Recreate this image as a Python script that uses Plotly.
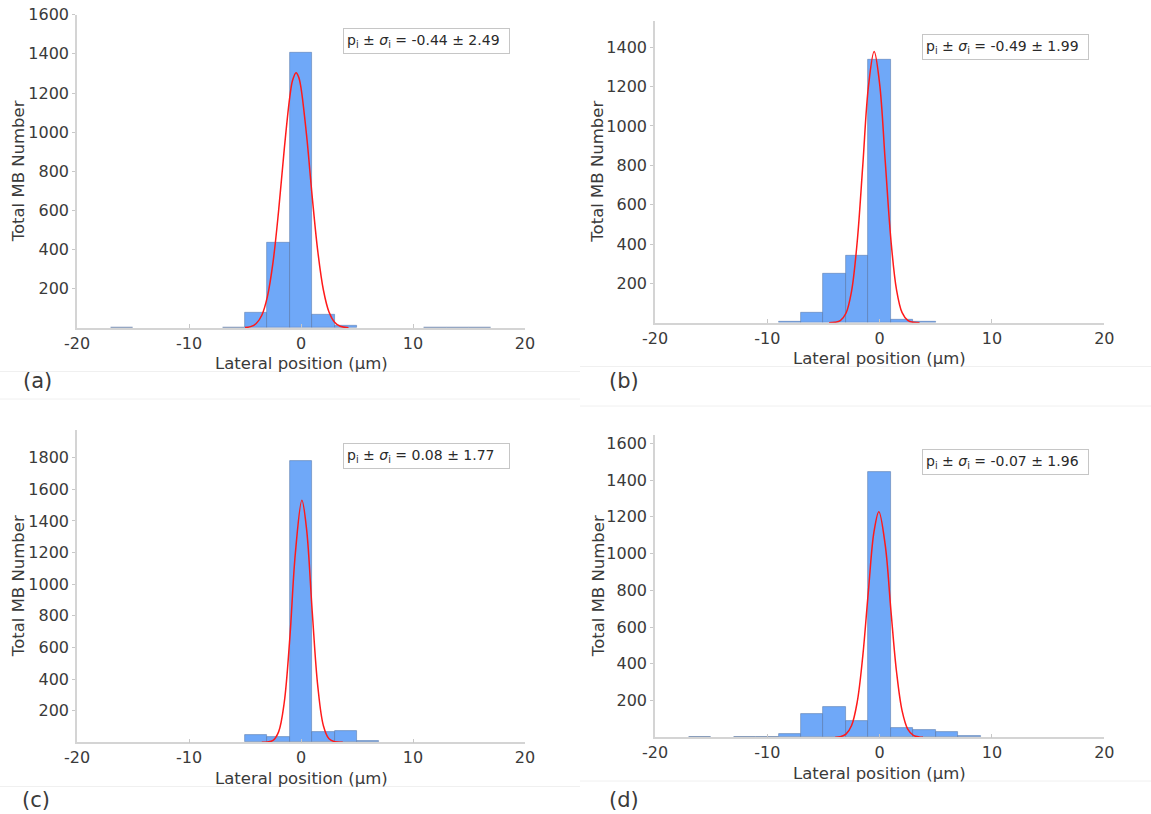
import plotly.graph_objects as go

W, H = 1151, 814

# ---------------- data ----------------
bin_width = 2.0

centers_a = [-16, -6, -4, -2, 0, 2, 4, 12, 14, 16]
counts_a = [3, 3, 80, 436, 1405, 68, 12, 3, 3, 3]
fit_x_a = [-5.0, -4.5, -4.0, -3.5, -3.0, -2.5, -2.0, -1.5, -1.0, -0.75, -0.44, -0.2, 0.0, 0.5, 1.0, 1.5, 2.0, 2.5, 3.0, 3.5, 4.24]
fit_y_a = [2, 7, 23, 65, 160, 335, 598, 910, 1180, 1265, 1304, 1280, 1226, 983, 671, 391, 194, 82, 30, 9, 1]
label_a = "p<sub>i</sub> ± <i>σ</i><sub>i</sub> = -0.44 ± 2.49"

centers_b = [-8, -6, -4, -2, 0, 2, 4]
counts_b = [5, 53, 251, 342, 1339, 17, 5]
fit_x_b = [-4.5, -4.0, -3.5, -3.0, -2.5, -2.0, -1.5, -1.0, -0.49, 0.0, 0.5, 1.0, 1.5, 2.0, 2.5, 3.0, 3.55]
fit_y_b = [0, 2, 11, 48, 161, 410, 801, 1200, 1378, 1213, 818, 423, 168, 51, 12, 2, 0]
label_b = "p<sub>i</sub> ± <i>σ</i><sub>i</sub> = -0.49 ± 1.99"

centers_c = [-4, -2, 0, 2, 4, 6]
counts_c = [46, 36, 1779, 67, 72, 10]
fit_x_c = [-3.5, -3.0, -2.5, -2.0, -1.5, -1.0, -0.5, 0.08, 0.5, 1.0, 1.5, 2.0, 2.5, 3.0, 3.73]
fit_y_c = [0, 2, 12, 66, 250, 657, 1199, 1531, 1347, 829, 354, 105, 22, 3, 0]
label_c = "p<sub>i</sub> ± <i>σ</i><sub>i</sub> = 0.08 ± 1.77"

centers_d = [-16, -12, -10, -8, -6, -4, -2, 0, 2, 4, 6, 8]
counts_d = [2, 2, 4, 20, 127, 167, 89, 1446, 53, 40, 31, 5]
fit_x_d = [-3.94, -3.5, -3.0, -2.5, -2.0, -1.5, -1.0, -0.5, -0.07, 0.5, 1.0, 1.5, 2.0, 2.5, 3.0, 3.5, 3.85]
fit_y_d = [1, 3, 17, 64, 191, 443, 797, 1120, 1228, 1044, 693, 358, 144, 45, 11, 2, 1]
label_d = "p<sub>i</sub> ± <i>σ</i><sub>i</sub> = -0.07 ± 1.96"

panel_letters = ["(a)", "(b)", "(c)", "(d)"]
x_ticks = [-20, -10, 0, 10, 20]
y_ticks_a = [200, 400, 600, 800, 1000, 1200, 1400, 1600]
y_ticks_b = [200, 400, 600, 800, 1000, 1200, 1400]
y_ticks_c = [200, 400, 600, 800, 1000, 1200, 1400, 1600, 1800]
y_ticks_d = [200, 400, 600, 800, 1000, 1200, 1400, 1600]
y_max = [1600, 1535, 1975, 1645]

x_title = "Lateral position (µm)"
y_title = "Total MB Number"

# ---------------- layout (pixel boxes) ----------------
boxes = [(77, 14.7, 525, 328), (655, 20.7, 1104.3, 322.7),
         (77, 430, 525, 742.3), (655, 435, 1104.3, 737.3)]
ann_pos = [(342.7, 28.3), (921.8, 34.3), (342.7, 443.3), (921.8, 449.3)]
letter_pos = [(37, 381), (624, 381), (36, 800), (624, 800)]
ytitle_x = [18, 598, 18, 598]
xtitle_y = [363, 358, 778, 773]

FONT = "DejaVu Sans"
TXT = "#3a3a3a"
BAR = "#6fa8f8"
BAR_EDGE = "rgba(70,100,150,0.55)"
AXIS = "#d4d4d4"

panels = [
    (centers_a, counts_a, fit_x_a, fit_y_a, label_a, y_ticks_a),
    (centers_b, counts_b, fit_x_b, fit_y_b, label_b, y_ticks_b),
    (centers_c, counts_c, fit_x_c, fit_y_c, label_c, y_ticks_c),
    (centers_d, counts_d, fit_x_d, fit_y_d, label_d, y_ticks_d),
]

fig = go.Figure()
annotations = []
shapes = []
layout_axes = {}

for i, (cx, cy, fx, fy, lab, yt) in enumerate(panels):
    n = i + 1
    xa = "x" if n == 1 else f"x{n}"
    ya = "y" if n == 1 else f"y{n}"
    l, t, r, b = boxes[i]
    fig.add_trace(go.Bar(x=cx, y=cy, width=bin_width, xaxis=xa, yaxis=ya,
                         marker=dict(color=BAR, line=dict(color=BAR_EDGE, width=0.8)),
                         showlegend=False))
    fig.add_trace(go.Scatter(x=fx, y=fy, mode="lines", xaxis=xa, yaxis=ya,
                             line=dict(color="#ff1a1a", width=1.5, shape="spline", smoothing=1.0),
                             showlegend=False))
    xkey = "xaxis" if n == 1 else f"xaxis{n}"
    ykey = "yaxis" if n == 1 else f"yaxis{n}"
    layout_axes[xkey] = dict(
        domain=[l / W, r / W], anchor=ya, range=[-20, 20], automargin=False,
        tickvals=x_ticks, ticktext=[str(v) for v in x_ticks],
        showgrid=False, zeroline=False, showline=True, linecolor=AXIS, linewidth=1.5,
        ticks="inside", ticklen=4, tickcolor="#c8c8c8",
        tickfont=dict(family=FONT, size=16, color=TXT), fixedrange=True)
    layout_axes[ykey] = dict(
        domain=[1 - b / H, 1 - t / H], anchor=xa, range=[0, y_max[i]], automargin=False,
        tickvals=yt, ticktext=[str(v) for v in yt],
        showgrid=False, zeroline=False, showline=True, linecolor=AXIS, linewidth=1.5,
        ticks="outside", ticklen=3, tickcolor="#c8c8c8",
        tickfont=dict(family=FONT, size=16, color=TXT), fixedrange=True)

    ax, ay = ann_pos[i]
    annotations.append(dict(
        text=lab, xref="paper", yref="paper", x=ax / W, y=1 - ay / H,
        xanchor="left", yanchor="top", showarrow=False, align="left",
        width=159, height=18, borderpad=3, bordercolor="#c6c6c6", borderwidth=1,
        bgcolor="white", font=dict(family=FONT, size=14, color="#2a2a2a")))
    annotations.append(dict(
        text=y_title, xref="paper", yref="paper", x=ytitle_x[i] / W, y=1 - (t + b) / 2 / H,
        xanchor="center", yanchor="middle", textangle=-90, showarrow=False,
        font=dict(family=FONT, size=16.5, color=TXT)))
    annotations.append(dict(
        text=x_title, xref="paper", yref="paper", x=(l + r) / 2 / W, y=1 - xtitle_y[i] / H,
        xanchor="center", yanchor="middle", showarrow=False,
        font=dict(family=FONT, size=16.5, color=TXT)))
    lx, ly = letter_pos[i]
    annotations.append(dict(
        text=panel_letters[i], xref="paper", yref="paper", x=lx / W, y=1 - ly / H,
        xanchor="center", yanchor="middle", showarrow=False,
        font=dict(family=FONT, size=21, color=TXT)))

# faint separators from the original composite image
sep_lines = [(0, 580, 371.5), (0, 580, 399), (580, 1151, 366.5), (580, 1151, 406),
             (0, 580, 786.5), (580, 1151, 781)]
for x0, x1, yy in sep_lines:
    shapes.append(dict(type="line", xref="paper", yref="paper",
                       x0=x0 / W, x1=x1 / W, y0=1 - yy / H, y1=1 - yy / H,
                       line=dict(color="#f0f0f0", width=1)))

fig.update_layout(
    width=W, height=H, margin=dict(l=0, r=0, t=0, b=0, autoexpand=False),
    paper_bgcolor="white", plot_bgcolor="white",
    annotations=annotations, shapes=shapes, bargap=0,
    font=dict(family=FONT, color=TXT),
    **layout_axes)

fig.write_html("out.html", config={"displayModeBar": False})
